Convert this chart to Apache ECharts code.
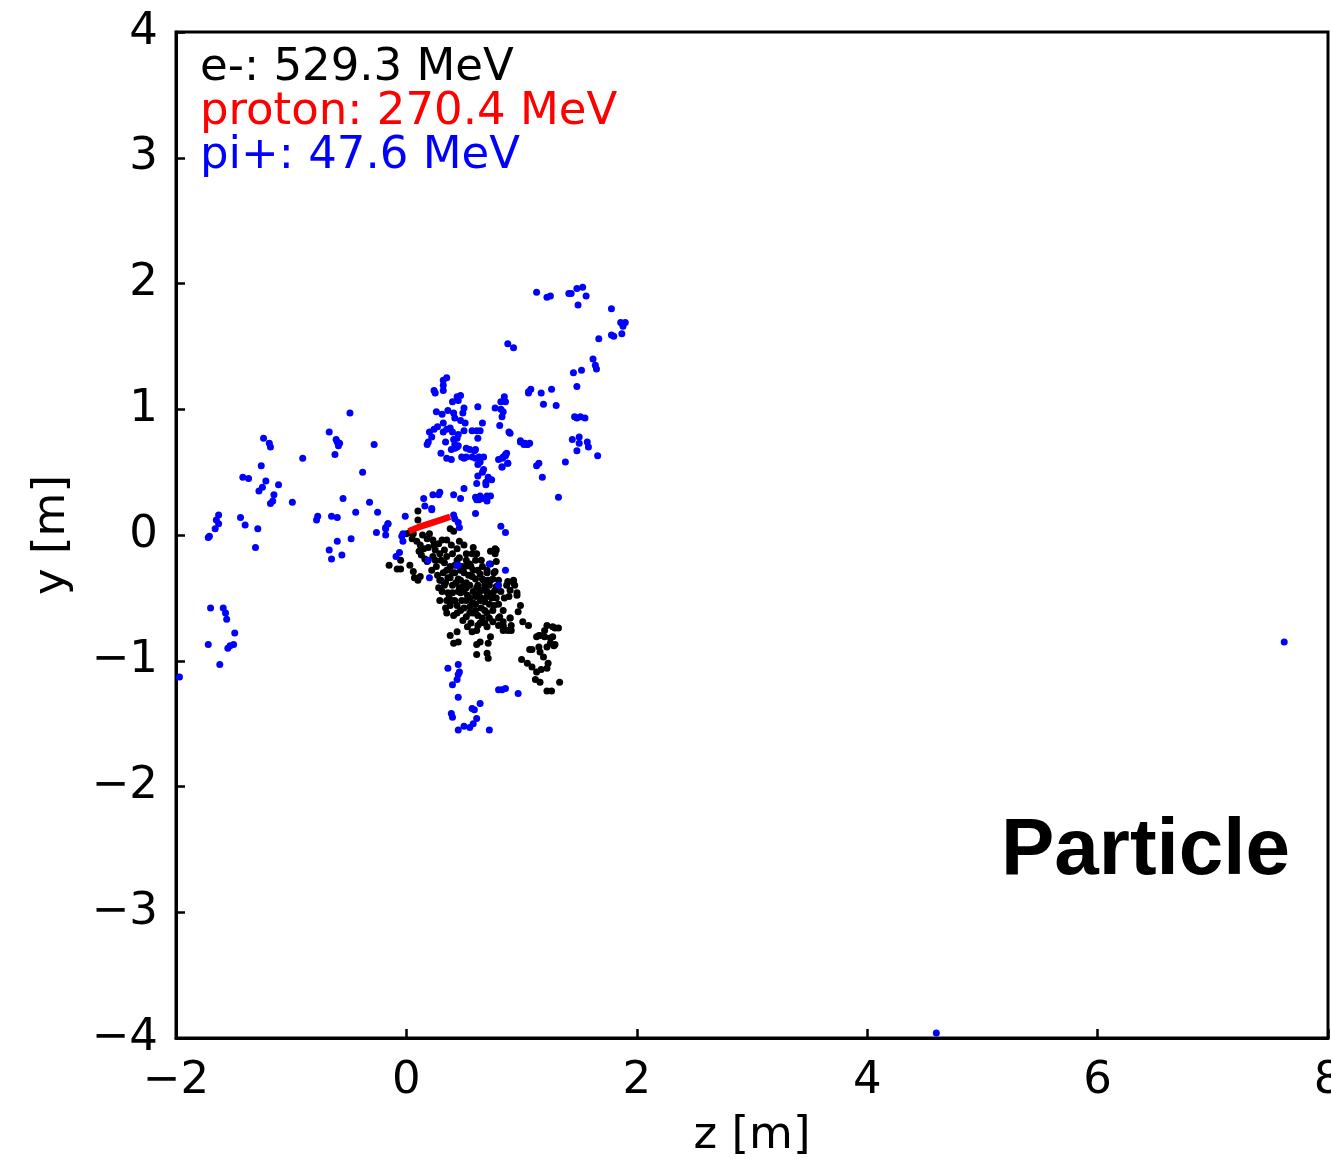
<!DOCTYPE html>
<html>
<head>
<meta charset="utf-8">
<script src="https://cdn.jsdelivr.net/npm/echarts@6/dist/echarts.min.js"></script>
<style>
html,body{margin:0;padding:0;background:#fff;}
#chart{width:1331px;height:1159px;}
</style>
</head>
<body>
<div id="chart"></div>
<script>
// ---- data (z [m], y [m]) ----
const xTicks = [-2, 0, 2, 4, 6, 8];
const yTicks = [-4, -3, -2, -1, 0, 1, 2, 3, 4];
const legendLines = ['e-: 529.3 MeV', 'proton: 270.4 MeV', 'pi+: 47.6 MeV'];
const panelLabel = 'Particle';

const electronPts = [
[0.10,0.19],[0.10,0.12],[0.06,0.01],[0.05,-0.03],[0.09,-0.05],[0.12,-0.08],[0.15,-0.11],[0.11,-0.13],[0.13,-0.16],[0.16,-0.19],
[0.20,0.01],[0.23,-0.04],[0.28,-0.07],[0.31,-0.04],[0.35,-0.04],[0.39,-0.08],[0.44,-0.11],[0.38,0.05],[0.41,0.03],
[-0.15,-0.24],[-0.08,-0.27],[-0.05,-0.27],[-0.05,-0.20],[0.03,-0.24],[0.06,-0.29],[0.07,-0.34],[0.12,-0.33],[0.10,-0.36],
[0.18,-0.21],[0.22,-0.28],[0.26,-0.25],[0.23,-0.17],[0.29,-0.15],[0.35,-0.17],[0.29,-0.36],[0.34,-0.38],[0.38,-0.34],
[0.42,-0.30],[0.47,-0.28],[0.51,-0.25],[0.55,-0.23],[0.60,-0.20],[0.57,-0.15],[0.61,-0.15],[0.29,-0.52],[0.34,-0.58],
[0.38,-0.56],[0.42,-0.52],[0.47,-0.46],[0.49,-0.41],[0.35,-0.62],[0.41,-0.64],[0.47,-0.60],[0.52,-0.65],[0.55,-0.57],
[0.60,-0.49],[0.64,-0.44],[0.67,-0.36],[0.64,-0.31],[0.70,-0.28],[0.73,-0.23],[0.77,-0.11],[0.73,-0.13],[0.78,-0.21],
[0.77,-0.29],[0.52,-0.52],[0.58,-0.54],[0.64,-0.52],[0.70,-0.49],[0.75,-0.46],[0.78,-0.41],[0.80,-0.36],[0.38,-0.80],
[0.44,-0.77],[0.45,-0.85],[0.41,-0.86],[0.57,-0.77],[0.61,-0.76],[0.64,-0.70],[0.70,-0.73],[0.73,-0.81],[0.71,-0.86],
[0.61,-0.87],[0.64,-0.85],[0.61,-0.95],[0.70,-0.94],[0.71,-0.98],[0.75,-0.69],[0.80,-0.66],[0.84,-0.69],[0.90,-0.66],
[0.91,-0.72],[0.88,-0.76],[0.84,-0.73],[0.81,-0.65],[0.87,-0.40],[0.90,-0.44],[0.93,-0.36],[0.94,-0.40],[0.89,-0.49],
[0.96,-0.46],[0.99,-0.56],[0.97,-0.61],[1.01,-0.69],[1.06,-0.72],[0.77,-0.15],[0.78,-0.12],[0.73,-0.36],[0.76,-0.30],[0.77,-0.44],
[1.00,-0.99],[1.05,-1.02],[1.09,-1.05],[1.13,-1.09],[1.12,-1.15],[1.16,-1.17],[1.17,-1.07],[1.22,-1.06],[1.23,-1.02],
[1.19,-0.97],[1.16,-0.93],[1.15,-0.89],[1.22,-0.89],[1.25,-0.86],[1.27,-0.81],[1.32,-0.74],[1.27,-0.73],[1.22,-0.72],
[1.20,-0.76],[1.15,-0.80],[1.20,-0.81],[1.25,-0.82],[1.29,-0.87],[1.33,-1.17],[1.22,-1.24],[1.26,-1.24],[1.09,-0.91],
[1.13,-0.81],[1.16,-0.80],[1.29,-0.74],[1.28,-0.88],[1.07,-0.91],
[0.88,-0.37],[0.93,-0.38],[0.96,-0.48],[0.90,-0.66],[0.84,-0.72],[0.84,-0.76],[0.91,-0.76],
[0.45,-0.35],[0.50,-0.30],[0.55,-0.40],[0.60,-0.35],[0.50,-0.45],[0.65,-0.50],[0.70,-0.45],[0.60,-0.55],[0.55,-0.50],
[0.45,-0.45],[0.40,-0.40],[0.48,-0.25],[0.62,-0.28],[0.68,-0.40],[0.72,-0.55],[0.58,-0.62],[0.66,-0.66],[0.40,-0.52],
[0.36,-0.46],[0.52,-0.20],[0.44,-0.20],[0.38,-0.25],[0.32,-0.30],[0.28,-0.42],[0.33,-0.40],[0.56,-0.70],[0.62,-0.72],
[0.75,-0.60],[0.80,-0.55],[0.85,-0.50],[0.70,-0.30],[0.65,-0.20],[0.03,0.02],[0.00,0.01],[0.19,-0.10],[0.25,-0.12],
[0.33,-0.22],[0.27,-0.32],[0.40,-0.15],[0.54,-0.32],[0.68,-0.60],
[0.30,-0.20],[0.35,-0.28],[0.40,-0.30],[0.43,-0.38],[0.47,-0.36],[0.52,-0.38],[0.57,-0.33],[0.62,-0.40],[0.66,-0.35],
[0.58,-0.45],[0.63,-0.47],[0.53,-0.48],[0.48,-0.52],[0.44,-0.56],[0.50,-0.58],[0.55,-0.62],[0.60,-0.60],[0.65,-0.58],
[0.70,-0.62],[0.74,-0.50],[0.68,-0.53],[0.72,-0.40],[0.75,-0.35],[0.66,-0.25],[0.58,-0.28],[0.52,-0.15],[0.46,-0.18],
[0.42,-0.24],[0.36,-0.34],[0.31,-0.45],[0.37,-0.50],[0.44,-0.62],[0.49,-0.68],[0.53,-0.73],[0.68,-0.70],[0.78,-0.50],
[0.82,-0.45],[0.58,-0.10],[0.50,-0.08],[0.46,-0.05],[0.24,-0.08],[0.18,-0.03],[0.14,0.00],[0.33,-0.12],[0.56,-0.25],
[0.62,-0.64],[0.72,-0.66],[0.76,-0.56],[0.84,-0.60],[0.80,-0.72],[0.52,-0.42],[0.46,-0.42],[0.61,-0.42],[0.57,-0.55],
[0.67,-0.44],[0.71,-0.36],[0.40,-0.46],[0.35,-0.52],[0.30,-0.36],[0.25,-0.20]
];

const protonTrack = [[0.02,0.03],[0.10,0.06],[0.20,0.09],[0.30,0.12],[0.38,0.145]];

const pionPts = [
[-0.49,0.97],[-1.24,0.77],[-1.19,0.73],[-1.18,0.70],[-0.67,0.82],[-0.61,0.76],[-0.60,0.74],[-0.58,0.73],[-0.59,0.71],
[-0.62,0.64],[-0.28,0.72],[-0.90,0.61],[-1.26,0.55],[-1.42,0.46],[-1.37,0.45],[-1.22,0.43],[-1.11,0.40],[-1.25,0.38],
[-1.28,0.35],[-1.15,0.32],[-1.16,0.27],[-1.18,0.25],[-0.99,0.26],[-0.38,0.50],[-0.55,0.29],[-0.32,0.26],[-0.44,0.18],
[-0.25,0.18],[-0.01,0.15],[-1.63,0.16],[-1.65,0.12],[-1.63,0.09],[-1.66,0.05],[-1.71,-0.01],[-1.72,-0.02],[-1.44,0.14],
[-1.40,0.08],[-1.29,0.05],[-1.31,-0.10],[-0.77,0.15],[-0.78,0.12],[-0.65,0.15],[-0.60,0.14],[-0.16,0.09],[-0.18,0.06],
[-0.26,0.02],[-0.18,0.00],[-0.60,-0.05],[-0.48,-0.03],[-0.67,-0.12],[-0.65,-0.19],[-0.56,-0.16],[-0.06,-0.14],[-0.09,-0.17],
[-0.03,0.01],[-0.04,-0.01],[-0.03,-0.05],
[-1.70,-0.58],[-1.59,-0.58],[-1.57,-0.62],[-1.56,-0.67],[-1.49,-0.78],[-1.72,-0.87],[-1.55,-0.90],[-1.53,-0.88],[-1.50,-0.87],
[-1.62,-1.03],[-1.97,-1.13],
[0.36,-1.06],[0.45,-1.03],[0.46,-1.09],[0.45,-1.11],[0.44,-1.15],[0.40,-1.19],[0.45,-1.29],[0.64,-1.34],[0.57,-1.38],
[0.59,-1.39],[0.61,-1.46],[0.39,-1.42],[0.40,-1.45],[0.45,-1.55],[0.50,-1.52],[0.55,-1.53],[0.58,-1.50],[0.72,-1.55],
[0.80,-1.23],[0.83,-1.23],[0.86,-1.22],[0.97,-1.26],
[0.32,1.23],[0.35,1.25],[0.32,1.19],[0.32,1.15],[0.24,1.15],[0.25,1.13],[0.44,1.10],[0.47,1.11],[0.45,1.07],[0.40,1.06],
[0.50,1.01],[0.49,0.97],[0.36,0.99],[0.41,0.97],[0.26,0.98],[0.31,0.96],[0.62,1.02],[0.85,1.10],[0.82,1.06],[0.86,1.06],
[0.77,1.01],[0.82,1.00],[0.84,0.98],[0.83,0.94],[1.06,1.14],[0.42,0.93],[0.47,0.91],[0.51,0.89],[0.32,0.89],[0.66,0.89],
[0.81,0.87],[0.27,0.86],[0.24,0.84],[0.35,0.84],[0.38,0.85],[0.40,0.82],[0.32,0.82],[0.57,0.83],[0.61,0.83],[0.64,0.83],
[0.50,0.83],[0.20,0.82],[0.22,0.78],[0.89,0.82],[0.45,0.80],[0.44,0.77],[0.62,0.77],[0.34,0.74],[0.41,0.76],[0.42,0.72],
[0.44,0.70],[0.18,0.72],[0.19,0.74],[0.99,0.75],[1.03,0.73],[1.05,0.72],[0.39,0.68],[0.42,0.69],[0.45,0.71],[0.52,0.69],
[0.55,0.68],[0.59,0.67],[0.60,0.68],[0.30,0.65],[0.87,0.65],[0.86,0.63],[0.83,0.61],[0.80,0.60],[0.35,0.61],[0.39,0.60],
[0.48,0.62],[0.50,0.61],[0.52,0.62],[0.57,0.62],[0.60,0.61],[0.63,0.62],[0.67,0.62],[0.64,0.58],[0.62,0.56],[0.83,0.54],
[0.88,0.57],[0.67,0.52],[0.66,0.50],[0.62,0.47],[0.71,0.46],[0.74,0.44],[0.69,0.42],[0.61,0.41],[0.69,0.40],[0.50,0.37],
[0.29,0.34],[0.28,0.32],[0.23,0.32],[0.41,0.32],[0.47,0.29],[0.60,0.30],[0.61,0.28],[0.64,0.31],[0.67,0.29],[0.70,0.31],
[0.73,0.31],[0.63,0.28],[0.70,0.27],[0.15,0.29],[0.16,0.23],[0.22,0.21],
[1.13,1.93],[1.22,1.89],[1.25,1.90],[1.41,1.92],[1.43,1.92],[1.48,1.96],[1.53,1.97],[1.56,1.90],[1.49,1.83],[1.78,1.80],
[1.86,1.69],[1.90,1.69],[1.88,1.66],[1.87,1.60],[1.78,1.59],[1.80,1.58],[1.67,1.56],[0.88,1.52],[0.93,1.49],[1.62,1.40],
[1.64,1.35],[1.65,1.32],[1.45,1.29],[1.52,1.31],[1.48,1.18],[1.08,1.16],[1.06,1.13],[1.17,1.13],[1.26,1.16],[1.19,1.04],
[1.30,1.03],[1.46,0.94],[1.51,0.94],[1.55,0.93],[1.48,0.93],[0.90,0.81],[0.99,0.74],[1.02,0.72],[1.07,0.73],[1.05,0.72],
[1.44,0.76],[1.50,0.78],[1.50,0.73],[1.57,0.74],[1.58,0.70],[1.48,0.67],[1.66,0.63],[0.86,0.64],[0.84,0.62],[0.88,0.57],
[0.83,0.54],[1.15,0.57],[1.13,0.55],[1.38,0.58],[1.18,0.46],[1.32,0.30],
[0.82,0.07],[0.86,0.02],[0.60,0.17],[0.42,0.13],[0.45,0.10],[0.46,0.06],[0.41,0.16],[0.22,0.20],[0.86,-0.28],[0.80,-0.40],
[0.20,-0.34],[0.19,-0.20],[0.44,-0.24],[0.45,-0.24],[0.72,-0.23],[-0.16,0.09],[-0.18,0.05],
[7.62,-0.85],[4.60,-3.96]
];

// ---- chart ----
const FONT = '"DejaVu Sans", sans-serif';
const minus = v => String(v).replace('-', '\u2212');
const chart = echarts.init(document.getElementById('chart'), null, {renderer: 'canvas'});

const axisCommon = {
  type: 'value',
  axisLine: {show: true, onZero: false, lineStyle: {color: '#000', width: 3}},
  axisTick: {show: true, inside: true, length: 9, lineStyle: {color: '#000', width: 2.5}},
  splitLine: {show: false},
  nameTextStyle: {fontFamily: FONT, fontSize: 45, color: '#000'},
};

chart.setOption({
  animation: false,
  backgroundColor: '#fff',
  grid: {left: 176, top: 32, width: 1152, height: 1006, containLabel: false, outerBoundsMode: 'none',
         show: true, borderColor: '#000', borderWidth: 3, backgroundColor: 'transparent'},
  xAxis: Object.assign({}, axisCommon, {
    min: xTicks[0], max: xTicks[xTicks.length - 1], interval: xTicks[1] - xTicks[0],
    name: 'z [m]', nameLocation: 'middle', nameGap: 76,
    axisLabel: {fontFamily: FONT, fontSize: 45, color: '#000', margin: 21, formatter: minus, showMaxLabel: true, showMinLabel: true}
  }),
  yAxis: Object.assign({}, axisCommon, {
    min: yTicks[0], max: yTicks[yTicks.length - 1], interval: yTicks[1] - yTicks[0],
    name: 'y [m]', nameLocation: 'middle', nameGap: 101, nameRotate: 90,
    axisLabel: {fontFamily: FONT, fontSize: 45, color: '#000', margin: 18, formatter: minus, showMaxLabel: true, showMinLabel: true}
  }),
  series: [
    {type: 'scatter', name: 'e-', data: electronPts, symbol: 'circle', symbolSize: 7,
     itemStyle: {color: '#000', opacity: 1}, silent: true},
    {type: 'line', name: 'proton', data: protonTrack, showSymbol: false, symbol: 'none',
     lineStyle: {color: '#ff0000', width: 6.5}, silent: true},
    {type: 'scatter', name: 'pi+', data: pionPts, symbol: 'circle', symbolSize: 7,
     itemStyle: {color: '#0000ff', opacity: 1}, silent: true}
  ],
  graphic: [
    {type: 'text', left: 200, top: 46, silent: true,
     style: {text: legendLines[0], fill: '#000', font: '45px ' + FONT}},
    {type: 'text', left: 200, top: 90, silent: true,
     style: {text: legendLines[1], fill: '#ff0000', font: '45px ' + FONT}},
    {type: 'text', left: 200, top: 134, silent: true,
     style: {text: legendLines[2], fill: '#0000ff', font: '45px ' + FONT}},
    {type: 'text', right: 41, top: 812, silent: true,
     style: {text: panelLabel, fill: '#000', font: 'bold 80px "Liberation Sans", Arial, sans-serif'}}
  ]
});
</script>
</body>
</html>
